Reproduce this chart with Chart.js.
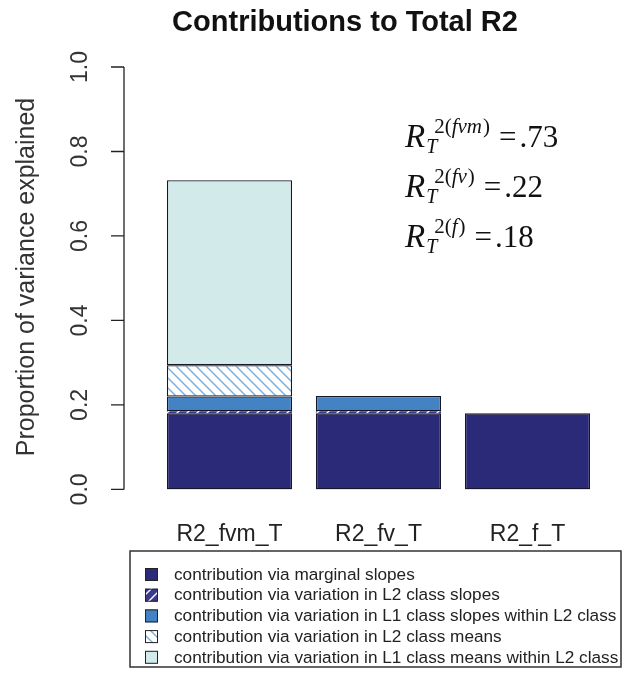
<!DOCTYPE html>
<html>
<head>
<meta charset="utf-8">
<title>Contributions to Total R2</title>
<script src="https://cdn.jsdelivr.net/npm/chart.js@4.4.0/dist/chart.umd.min.js"></script>
<style>
  html, body { margin: 0; padding: 0; background: #fff; }
  #wrap { width: 623px; height: 678px; position: relative; }
</style>
</head>
<body>
<div id="wrap"><canvas id="r2Chart"></canvas></div>
<script>
// values
const categories = ['R2_fvm_T', 'R2_fv_T', 'R2_f_T'];
const seriesLabels = [
    'contribution via marginal slopes',
    'contribution via variation in L2 class slopes',
    'contribution via variation in L1 class slopes within L2 class',
    'contribution via variation in L2 class means',
    'contribution via variation in L1 class means within L2 class'
];
const marginalSlopes = [0.18, 0.18, 0.18];
const l2ClassSlopes = [0.005, 0.005, null];
const l1SlopesWithinL2 = [0.035, 0.036, null];
const l2ClassMeans = [0.074, null, null];
const l1MeansWithinL2 = [0.438, null, null];
const yTicks = [0, 0.2, 0.4, 0.6, 0.8, 1.0];
const r2Models = ['fvm', 'fv', 'f'];
const r2Totals = [0.73, 0.22, 0.18];

const SANS = '"Liberation Sans", Arial, sans-serif';
const SERIF = '"Liberation Serif", "Times New Roman", serif';

const canvas = document.getElementById('r2Chart');
const mainCtx = canvas.getContext('2d');

// diagonal hatch fill, like R's density/angle shading
function hatch(bg, line, dir) {
    const c = document.createElement('canvas');
    c.width = 10;
    c.height = 10;
    const g = c.getContext('2d');
    g.fillStyle = bg;
    g.fillRect(0, 0, 10, 10);
    g.strokeStyle = line;
    g.lineWidth = 1.4;
    g.beginPath();
    if (dir === 'down') {
        g.moveTo(-5, -5); g.lineTo(15, 15);
        g.moveTo(-5, 5); g.lineTo(5, 15);
        g.moveTo(5, -5); g.lineTo(15, 5);
    } else {
        g.moveTo(-5, 15); g.lineTo(15, -5);
        g.moveTo(-5, 5); g.lineTo(5, -5);
        g.moveTo(5, 15); g.lineTo(15, 5);
    }
    g.stroke();
    return mainCtx.createPattern(c, 'repeat');
}

const fills = [
    '#2b2a78',
    hatch('#3c3990', '#ffffff', 'up'),
    '#4383c3',
    hatch('#ffffff', '#78acd9', 'down'),
    '#d3eaeb'
];
const borderWidths = [1.3, 0, 1.3, 1.3, 1.3];
const seriesData = [marginalSlopes, l2ClassSlopes, l1SlopesWithinL2, l2ClassMeans, l1MeansWithinL2];

const r2Extras = {
    id: 'r2Extras',
    afterDraw(chart) {
        const ctx = chart.ctx;
        const y = chart.scales.y;
        const axisX = 124;
        ctx.save();

        // title, centred on the whole figure like R's main=
        ctx.fillStyle = '#111';
        ctx.font = 'bold 29px ' + SANS;
        ctx.textAlign = 'center';
        ctx.textBaseline = 'middle';
        ctx.fillText('Contributions to Total R2', 345, 23);

        // R style y axis
        ctx.strokeStyle = '#222';
        ctx.lineWidth = 1.3;
        ctx.beginPath();
        ctx.moveTo(axisX, y.getPixelForValue(yTicks[0]));
        ctx.lineTo(axisX, y.getPixelForValue(yTicks[yTicks.length - 1]));
        yTicks.forEach(t => {
            const py = y.getPixelForValue(t);
            ctx.moveTo(axisX, py);
            ctx.lineTo(axisX - 13, py);
        });
        ctx.stroke();

        ctx.fillStyle = '#333';
        ctx.font = '23px ' + SANS;
        yTicks.forEach(t => {
            ctx.save();
            ctx.translate(81, y.getPixelForValue(t));
            ctx.rotate(-Math.PI / 2);
            ctx.fillText(t.toFixed(1), 0, 0);
            ctx.restore();
        });

        ctx.save();
        ctx.font = '25px ' + SANS;
        ctx.translate(27, 277);
        ctx.rotate(-Math.PI / 2);
        ctx.fillText('Proportion of variance explained', 0, 0);
        ctx.restore();

        // R_T^2(...) = .xx annotations
        ctx.fillStyle = '#111';
        ctx.textAlign = 'left';
        ctx.textBaseline = 'alphabetic';
        r2Models.forEach((m, i) => {
            const x0 = 405;
            const base = 147 + i * 50;
            ctx.font = 'italic 33px ' + SERIF;
            ctx.fillText('R', x0, base);
            const wR = ctx.measureText('R').width;
            ctx.font = 'italic 20px ' + SERIF;
            ctx.fillText('T', x0 + wR + 1, base + 6);
            let sx = x0 + wR + 9;
            const sb = base - 14;
            ctx.font = '21px ' + SERIF;
            ctx.fillText('2(', sx, sb);
            sx += ctx.measureText('2(').width;
            ctx.font = 'italic 21px ' + SERIF;
            ctx.fillText(m, sx, sb);
            sx += ctx.measureText(m).width + 1;
            ctx.font = '21px ' + SERIF;
            ctx.fillText(')', sx, sb);
            sx += ctx.measureText(')').width + 9;
            ctx.font = '31px ' + SERIF;
            ctx.fillText('=', sx, base);
            sx += ctx.measureText('=').width + 3;
            ctx.fillText(r2Totals[i].toFixed(2).replace(/^0/, ''), sx, base);
        });

        // boxed legend
        const lx = 130, ly = 551, lw = 491, lh = 116;
        ctx.strokeStyle = '#333';
        ctx.lineWidth = 1.5;
        ctx.strokeRect(lx, ly, lw, lh);
        ctx.font = '17.2px ' + SANS;
        ctx.textBaseline = 'middle';
        chart.data.datasets.forEach((ds, i) => {
            const cy = 574 + i * 20.7;
            ctx.fillStyle = ds.backgroundColor;
            ctx.fillRect(145, cy - 6, 13, 13);
            ctx.strokeStyle = '#222';
            ctx.lineWidth = 1;
            ctx.strokeRect(145.5, cy - 5.5, 12, 12);
            ctx.fillStyle = '#222';
            ctx.fillText(ds.label, 174, cy + 1);
        });

        ctx.restore();
    }
};

new Chart(mainCtx, {
    type: 'bar',
    data: {
        labels: categories,
        datasets: seriesData.map((d, i) => ({
            label: seriesLabels[i],
            data: d,
            backgroundColor: fills[i],
            borderColor: '#161626',
            borderWidth: borderWidths[i],
            borderSkipped: false,
            categoryPercentage: 1,
            barPercentage: 0.84
        }))
    },
    options: {
        responsive: true,
        maintainAspectRatio: false,
        animation: false,
        layout: {
            padding: { left: 155, right: 21, top: 67, bottom: 99 }
        },
        plugins: {
            legend: { display: false },
            tooltip: { enabled: false },
            title: { display: false }
        },
        scales: {
            x: {
                stacked: true,
                grid: { display: false, drawTicks: false },
                border: { display: false },
                ticks: {
                    color: '#222',
                    padding: 31,
                    font: { family: SANS, size: 23 }
                }
            },
            y: {
                stacked: true,
                display: false,
                min: 0,
                max: 1
            }
        }
    },
    plugins: [r2Extras]
});
</script>
</body>
</html>
